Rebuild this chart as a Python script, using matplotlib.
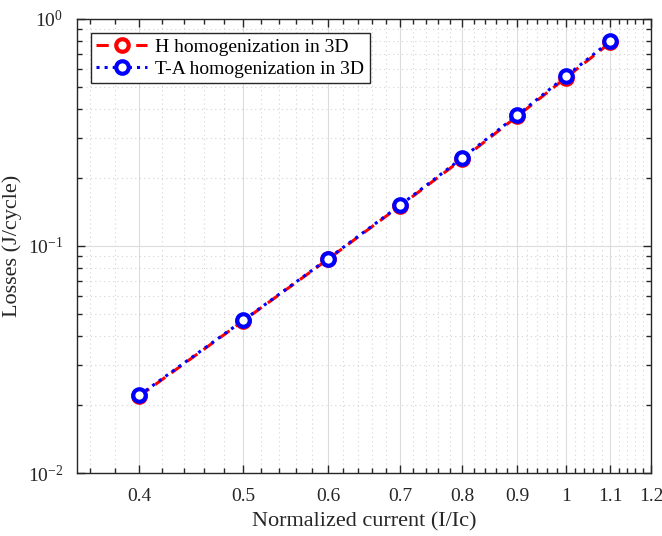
import numpy as np
import matplotlib as mpl
mpl.use('Agg')
import matplotlib.pyplot as plt
from matplotlib.ticker import FixedLocator, NullFormatter, LogLocator, LogFormatterMathtext

current = [0.4, 0.5, 0.6, 0.7, 0.8, 0.9, 1.0, 1.1]
losses_h = [0.0218, 0.0468, 0.0875, 0.150, 0.241, 0.372, 0.552, 0.788]
losses_ta = [0.0220, 0.0470, 0.0880, 0.151, 0.244, 0.376, 0.560, 0.800]
xticks = [0.4, 0.5, 0.6, 0.7, 0.8, 0.9, 1.0, 1.1, 1.2]
xticklabels = ['0.4', '0.5', '0.6', '0.7', '0.8', '0.9', '1', '1.1', '1.2']
xminor = [round(0.36 + 0.02 * i, 2) for i in range(42)]


def main():
    plt.rcParams['font.family'] = ['Liberation Serif', 'DejaVu Serif']
    plt.rcParams['mathtext.fontset'] = 'custom'
    plt.rcParams['mathtext.rm'] = 'Liberation Serif'
    plt.rcParams['mathtext.it'] = 'Liberation Serif:italic'
    plt.rcParams['mathtext.bf'] = 'Liberation Serif:bold'
    axcol = '#262626'

    fig = plt.figure(figsize=(6.62, 5.36), dpi=100)
    ax = fig.add_axes([0.1163, 0.1175, 0.8671, 0.8471])

    ax.plot(current, losses_h, color='red', linestyle='--', linewidth=2.2,
            marker='o', markersize=9, markeredgewidth=3, markerfacecolor='white',
            dashes=(4, 2.5), label='H homogenization in 3D', zorder=3)
    ax.plot(current, losses_ta, color='blue', linestyle=':', linewidth=2.2,
            marker='o', markersize=9, markeredgewidth=3, markerfacecolor='white',
            label='T-A homogenization in 3D', zorder=4)

    ax.set_xscale('log')
    ax.set_yscale('log')
    ax.set_xlim(0.35, 1.2)
    ax.set_ylim(1e-2, 1)

    ax.xaxis.set_major_locator(FixedLocator(xticks))
    ax.set_xticklabels(xticklabels)
    ax.xaxis.set_minor_locator(FixedLocator([v for v in xminor if v not in xticks]))
    ax.xaxis.set_minor_formatter(NullFormatter())
    ax.yaxis.set_major_locator(LogLocator(base=10, numticks=10))
    ax.yaxis.set_major_formatter(LogFormatterMathtext())
    ax.yaxis.set_minor_locator(LogLocator(base=10, subs=np.arange(2, 10), numticks=20))
    ax.yaxis.set_minor_formatter(NullFormatter())

    ax.grid(True, which='major', color='#dcdcdc', linestyle='-', linewidth=0.8)
    ax.grid(True, which='minor', color='#d4d4d4', linestyle=(0, (1, 3)), linewidth=0.8)
    ax.set_axisbelow(True)

    ax.tick_params(which='both', direction='in', top=True, right=True, colors=axcol,
                   labelsize=14, width=1)
    ax.tick_params(which='major', length=6)
    ax.tick_params(axis='x', which='major', pad=11)
    ax.tick_params(axis='y', which='major', pad=10)
    ax.tick_params(which='minor', length=3.5)
    for s in ax.spines.values():
        s.set_color(axcol)
        s.set_linewidth(1)

    ax.set_xlabel('Normalized current (I/Ic)', fontsize=16, color=axcol, labelpad=5)
    ax.set_ylabel('Losses (J/cycle)', fontsize=16, color=axcol, labelpad=4)

    leg = ax.legend(loc='upper left', fontsize=14, frameon=True, fancybox=False,
                    edgecolor=axcol, framealpha=1, borderpad=0.3, handlelength=2.6,
                    handletextpad=0.4, labelspacing=0.2, borderaxespad=0.7)
    leg.get_frame().set_linewidth(1)
    for t in leg.get_texts():
        t.set_color('black')

    fig.savefig('out.png', dpi=100)
    plt.close(fig)


if __name__ == '__main__':
    main()
